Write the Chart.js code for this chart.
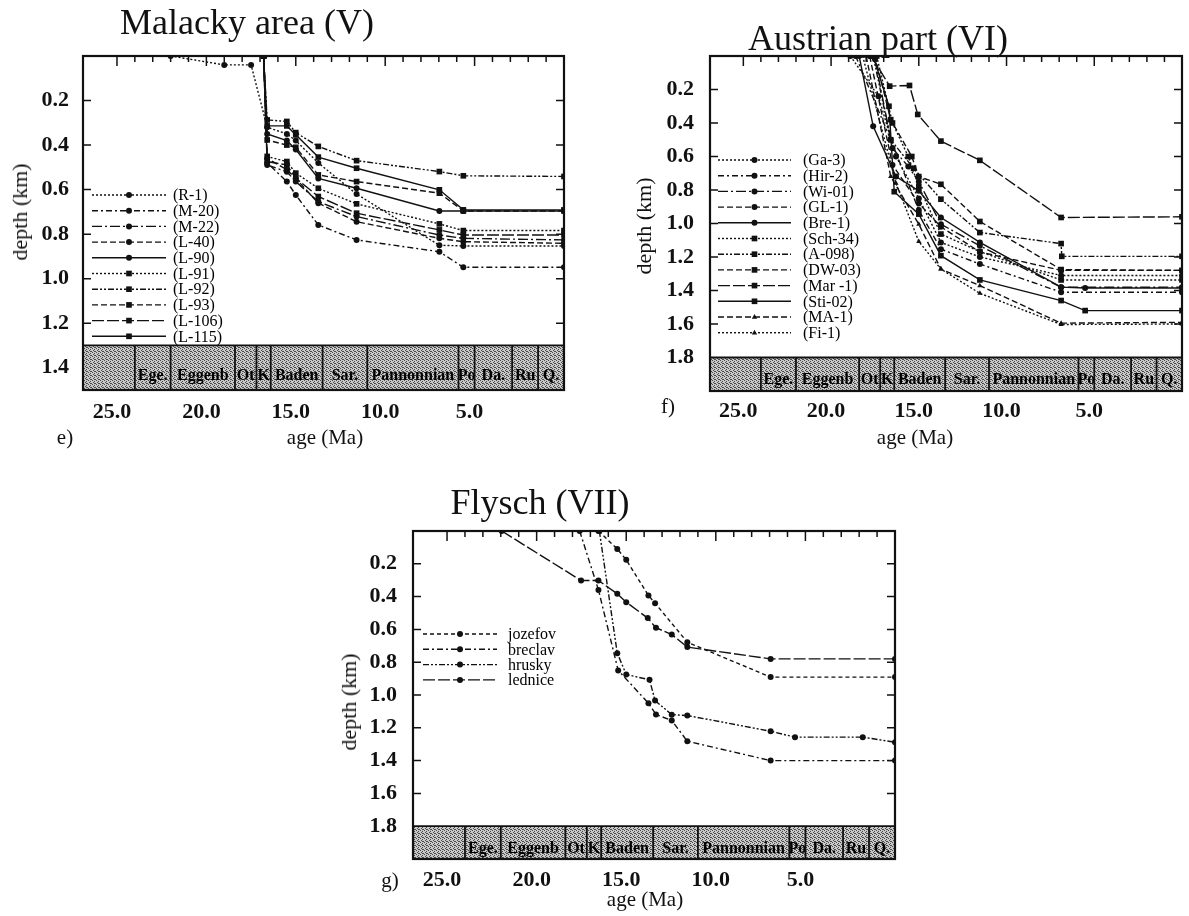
<!DOCTYPE html>
<html>
<head>
<meta charset="utf-8">
<title>Subsidence curves e-g</title>
<script src="https://cdn.jsdelivr.net/npm/chart.js@4.4.1/dist/chart.umd.min.js"></script>
<style>
  body { margin: 0; background: #fff; width: 1189px; height: 916px; position: relative; overflow: hidden;
         font-family: 'Liberation Serif', 'Times New Roman', serif; color: #111; }
  canvas { position: absolute; }
  .txt { position: absolute; transform: translate(-50%, -50%); white-space: nowrap; }
  .title { font-size: 36px; }
  .ax { font-size: 21px; }
  .ylab { font-size: 22px; transform: translate(-50%, -50%) rotate(-90deg); }
</style>
</head>
<body>
<canvas id="chartE" width="600" height="450" style="left:0;top:0"></canvas>
<canvas id="chartF" width="589" height="450" style="left:600px;top:0"></canvas>
<canvas id="chartG" width="620" height="446" style="left:300px;top:470px"></canvas>

<div class="txt title" style="left:247px;top:22px">Malacky area (V)</div>
<div class="txt title" style="left:878px;top:38px">Austrian part (VI)</div>
<div class="txt title" style="left:540px;top:502px">Flysch (VII)</div>

<div class="txt ylab" style="left:20px;top:212px">depth (km)</div>
<div class="txt ylab" style="left:644px;top:226px">depth (km)</div>
<div class="txt ylab" style="left:349px;top:702px">depth (km)</div>

<div class="txt ax" style="left:325px;top:437px">age (Ma)</div>
<div class="txt ax" style="left:915px;top:437px">age (Ma)</div>
<div class="txt ax" style="left:645px;top:899px">age (Ma)</div>

<div class="txt ax" style="left:65px;top:437px">e)</div>
<div class="txt ax" style="left:668px;top:406px">f)</div>
<div class="txt ax" style="left:390px;top:880px">g)</div>

<script>
// Stage band (Central Paratethys), ages in Ma
const stageAges = [26.9, 24.0, 22.0, 18.4, 17.2, 16.4, 13.5, 11.0, 5.9, 5.0, 2.9, 1.45, 0];
const stageNames = ['', 'Ege.', 'Eggenb', 'Ot', 'K', 'Baden', 'Sar.', 'Pannonnian', 'Po', 'Da.', 'Ru', 'Q.'];
const ageTicks = [25, 20, 15, 10, 5];
const ageMax = 26.9;
const depthTicksE = [0.2, 0.4, 0.6, 0.8, 1.0, 1.2, 1.4];
const depthTicksFG = [0.2, 0.4, 0.6, 0.8, 1.0, 1.2, 1.4, 1.6, 1.8];

// e) Malacky area (V) - [age Ma, depth km]
const malackyLabels = ['(R-1)', '(M-20)', '(M-22)', '(L-40)', '(L-90)', '(L-91)', '(L-92)', '(L-93)', '(L-106)', '(L-115)'];
const R1   = [[22.0,0],[19.0,0.04],[17.5,0.04],[16.6,0.32],[15.5,0.35],[15.0,0.38],[13.74,0.48],[11.6,0.62],[6.97,0.85],[5.63,0.853],[0,0.853]];
const M20  = [[16.8,0],[16.6,0.48],[15.5,0.564],[15.0,0.624],[13.74,0.759],[11.6,0.826],[6.97,0.879],[5.63,0.949],[0,0.949]];
const M22  = [[16.8,0],[16.6,0.489],[15.5,0.52],[15.0,0.564],[13.74,0.654],[11.6,0.721],[6.97,0.804],[5.63,0.819],[0,0.826]];
const L40  = [[16.8,0],[16.6,0.46],[15.5,0.51],[15.0,0.55],[13.74,0.661],[11.6,0.744],[6.97,0.819],[5.63,0.834],[0,0.841]];
const L90  = [[16.8,0],[16.6,0.35],[15.5,0.38],[15.0,0.42],[13.74,0.55],[11.6,0.594],[6.97,0.696],[5.63,0.696],[0,0.696]];
const L91  = [[16.8,0],[16.6,0.451],[15.5,0.474],[15.0,0.526],[13.74,0.594],[11.6,0.664],[6.97,0.754],[5.63,0.784],[0,0.784]];
const L92  = [[16.8,0],[16.6,0.287],[15.5,0.294],[15.0,0.344],[13.74,0.406],[11.6,0.47],[6.97,0.519],[5.63,0.538],[0,0.541]];
const L93  = [[16.8,0],[16.6,0.377],[15.5,0.40],[15.0,0.41],[13.74,0.534],[11.6,0.564],[6.97,0.616],[5.63,0.696],[0,0.696]];
const L106 = [[16.8,0],[16.6,0.474],[15.5,0.489],[15.0,0.549],[13.74,0.631],[11.6,0.706],[6.97,0.781],[5.63,0.804],[0,0.804]];
const L115 = [[16.8,0],[16.6,0.314],[15.5,0.314],[15.0,0.354],[13.74,0.454],[11.6,0.504],[6.97,0.601],[5.63,0.691],[0,0.691]];

// f) Austrian part (VI)
const austrianLabels = ['(Ga-3)', '(Hir-2)', '(Wi-01)', '(GL-1)', '(Bre-1)', '(Sch-34)', '(A-098)', '(DW-03)', '(Mar -1)', '(Sti-02)', '(MA-1)', '(Fi-1)'];
const Ga3  = [[18.9,0],[17.3,0.24],[16.3,0.6],[15.0,0.85],[13.74,1.113],[11.52,1.2],[6.89,1.31],[0,1.31]];
const Hir2 = [[18.6,0],[16.6,0.5],[15.0,0.92],[13.74,1.153],[11.52,1.242],[6.89,1.41],[0,1.41]];
const Wi01 = [[17.5,0.02],[16.5,0.55],[15.6,0.66],[15.0,0.75],[13.74,1.004],[11.52,1.133],[6.89,1.381],[0,1.38]];
const GL1  = [[17.8,0],[16.5,0.65],[15.0,0.88],[13.74,1.02],[11.52,1.17],[6.89,1.28],[0,1.28]];
const Bre1 = [[18.4,0],[17.6,0.42],[16.3,0.72],[15.0,0.805],[13.74,0.964],[11.52,1.113],[6.89,1.38],[5.52,1.385],[0,1.385]];
const Sch34= [[17.4,0],[16.5,0.4],[15.6,0.6],[15.0,0.78],[13.74,1.063],[11.52,1.168],[6.89,1.337],[0,1.337]];
const A098 = [[17.6,0],[16.6,0.5],[15.3,0.67],[13.74,0.855],[11.52,1.054],[6.89,1.12],[6.85,1.196],[0,1.196]];
const DW03 = [[17.5,0],[16.6,0.38],[15.4,0.6],[15.0,0.72],[13.74,0.766],[11.52,0.988],[6.89,1.275],[0,1.28]];
const Mar1 = [[17.7,0],[16.66,0.18],[15.53,0.176],[15.06,0.349],[13.74,0.508],[11.52,0.623],[6.89,0.964],[0,0.96]];
const Sti02= [[17.6,0],[16.7,0.3],[16.4,0.81],[15.0,0.944],[13.74,1.192],[11.52,1.337],[6.89,1.46],[5.52,1.52],[0,1.52]];
const MA1  = [[18.0,0],[16.6,0.72],[15.0,1.004],[13.74,1.272],[11.52,1.371],[6.89,1.595],[0,1.59]];
const Fi1  = [[18.2,0],[16.3,0.76],[15.0,1.107],[13.74,1.272],[11.52,1.417],[6.89,1.603],[0,1.60]];

// g) Flysch (VII)
const flyschLabels = ['jozefov', 'breclav', 'hrusky', 'lednice'];
const jozefov = [[16.55,0],[15.5,0.109],[15.0,0.176],[13.76,0.393],[13.39,0.44],[11.59,0.678],[6.94,0.891],[0,0.891]];
const breclav = [[17.6,0],[16.55,0.359],[15.45,0.85],[13.76,1.05],[13.34,1.119],[12.46,1.155],[11.59,1.282],[6.94,1.40],[0,1.40]];
const hrusky  = [[16.5,0],[15.5,0.745],[15.0,0.875],[13.7,0.907],[13.39,1.034],[12.46,1.12],[11.59,1.125],[6.94,1.221],[5.58,1.257],[1.8,1.257],[0,1.288]];
const lednice = [[21.95,0],[17.52,0.302],[16.55,0.302],[15.5,0.383],[15.0,0.434],[13.8,0.531],[13.34,0.59],[12.46,0.631],[11.59,0.708],[6.94,0.78],[0,0.78]];

// line styles
const DOT = [2, 2], DASHDOT = [6, 3, 2, 3], LDASHDOT = [10, 3, 2, 3], DASH = [6, 3],
      SOLID = [], DASHDOTDOT = [6, 2, 2, 2, 2, 2], LDASH = [12, 3];

const serif = "'Liberation Serif', 'Times New Roman', serif";

function bandPattern(ctx) {
    const c = document.createElement('canvas');
    c.width = 4; c.height = 4;
    const g = c.getContext('2d');
    g.fillStyle = '#c8c8c8';
    g.fillRect(0, 0, 4, 4);
    g.fillStyle = '#4a4a4a';
    [[0,0],[2,1],[1,2],[3,3],[2,3]].forEach(p => g.fillRect(p[0], p[1], 1, 1));
    return ctx.createPattern(c, 'repeat');
}

function drawMarker(ctx, style, r, x, y) {
    ctx.beginPath();
    if (style === 'rect') {
        const s = r * Math.SQRT1_2;
        ctx.rect(x - s, y - s, 2 * s, 2 * s);
    } else if (style === 'triangle') {
        ctx.moveTo(x, y - r);
        ctx.lineTo(x + r * 0.9, y + r * 0.6);
        ctx.lineTo(x - r * 0.9, y + r * 0.6);
        ctx.closePath();
    } else {
        ctx.arc(x, y, r, 0, Math.PI * 2);
    }
    ctx.fill();
}

// frame, inward ticks, stage band and legend
const panelDecor = {
    id: 'panelDecor',
    beforeDatasetsDraw(chart, args, o) {
        const { ctx, chartArea: a, scales: { x, y } } = chart;
        const yt = y.getPixelForValue(o.bandTop), yb = y.getPixelForValue(o.bandBottom);
        ctx.save();
        ctx.fillStyle = bandPattern(ctx);
        ctx.fillRect(a.left, yt, a.right - a.left, yb - yt);
        ctx.strokeStyle = '#111';
        ctx.lineWidth = 1.8;
        ctx.beginPath(); ctx.moveTo(a.left, yt); ctx.lineTo(a.right, yt); ctx.stroke();
        ctx.font = 'bold 16px ' + serif;
        ctx.textAlign = 'center';
        ctx.textBaseline = 'middle';
        ctx.fillStyle = '#000';
        for (let i = 0; i < stageNames.length; i++) {
            const x0 = x.getPixelForValue(stageAges[i]), x1 = x.getPixelForValue(stageAges[i + 1]);
            if (i > 0) { ctx.beginPath(); ctx.moveTo(x0, yt); ctx.lineTo(x0, yb); ctx.stroke(); }
            if (stageNames[i]) ctx.fillText(stageNames[i], (x0 + x1) / 2, yt + (yb - yt) * 0.68, Math.abs(x1 - x0) + 2);
        }
        ctx.restore();
    },
    afterDatasetsDraw(chart, args, o) {
        const { ctx, chartArea: a, scales: { x, y } } = chart;
        ctx.save();
        ctx.strokeStyle = '#111';
        ctx.lineWidth = 1.5;
        ctx.setLineDash([]);
        // top ticks every 1 Ma, longer every 5
        x.ticks.forEach(t => {
            if (t.value <= 0 || t.value >= x.max || !Number.isInteger(t.value)) return;
            const px = x.getPixelForValue(t.value);
            const len = t.value % 5 === 0 ? 10 : 6;
            ctx.beginPath(); ctx.moveTo(px, a.top); ctx.lineTo(px, a.top + len); ctx.stroke();
        });
        // depth ticks on both sides
        y.ticks.forEach(t => {
            if (t.value >= o.bandTop - 0.01) return;
            const py = y.getPixelForValue(t.value);
            ctx.beginPath();
            ctx.moveTo(a.left, py); ctx.lineTo(a.left + 8, py);
            ctx.moveTo(a.right, py); ctx.lineTo(a.right - 8, py);
            ctx.stroke();
        });
        ctx.lineWidth = 2.2;
        ctx.strokeRect(a.left, a.top, a.right - a.left, a.bottom - a.top);

        // legend
        ctx.font = '16px ' + serif;
        ctx.textAlign = 'left';
        ctx.textBaseline = 'middle';
        chart.data.datasets.forEach((ds, i) => {
            const ly = o.legY + i * o.legStep;
            ctx.strokeStyle = '#111';
            ctx.fillStyle = '#111';
            ctx.lineWidth = 1.4;
            ctx.setLineDash(ds.borderDash);
            ctx.beginPath(); ctx.moveTo(o.legX0, ly); ctx.lineTo(o.legX1, ly); ctx.stroke();
            ctx.setLineDash([]);
            drawMarker(ctx, ds.pointStyle, ds.pointRadius, (o.legX0 + o.legX1) / 2, ly);
            ctx.fillStyle = '#000';
            ctx.fillText(ds.label, o.legText, ly + 1);
        });
        ctx.restore();
    }
};

function series(label, pts, dash, style) {
    return {
        label: label,
        data: pts.map(p => ({ x: p[0], y: p[1] })),
        borderColor: '#111',
        backgroundColor: '#111',
        borderWidth: 1.4,
        borderDash: dash,
        pointStyle: style,
        pointRadius: style === 'rect' ? 4 : 3,
        pointBorderWidth: 0,
        tension: 0,
        fill: false
    };
}

function makePanel(id, datasets, p) {
    const tickFont = { family: serif, size: 22, weight: 'bold' };
    return new Chart(document.getElementById(id), {
        type: 'line',
        data: { datasets: datasets },
        options: {
            responsive: false,
            animation: false,
            layout: { padding: p.padding },
            plugins: {
                legend: { display: false },
                tooltip: { enabled: false },
                panelDecor: p.decor
            },
            scales: {
                x: {
                    type: 'linear', reverse: true, min: 0, max: ageMax,
                    afterFit: s => { s.height = 30; },
                    border: { display: false },
                    grid: { display: false, drawTicks: false },
                    ticks: {
                        stepSize: 1, autoSkip: false, maxRotation: 0, padding: p.xPad, labelOffset: -5,
                        font: tickFont, color: '#111',
                        callback: v => ageTicks.includes(v) ? v.toFixed(1) : ''
                    }
                },
                y: {
                    type: 'linear', reverse: true, min: 0, max: p.depthMax,
                    afterFit: s => { s.width = p.yWidth; },
                    afterBuildTicks: s => { s.ticks = p.depthTicks.map(v => ({ value: v })); },
                    border: { display: false },
                    grid: { display: false, drawTicks: false },
                    ticks: {
                        autoSkip: false, padding: p.yPad,
                        font: tickFont, color: '#111',
                        callback: v => v.toFixed(1)
                    }
                }
            }
        },
        plugins: [panelDecor]
    });
}

const malackySeries = [
    series(malackyLabels[0], R1, DOT, 'circle'),
    series(malackyLabels[1], M20, DASHDOT, 'circle'),
    series(malackyLabels[2], M22, LDASHDOT, 'circle'),
    series(malackyLabels[3], L40, DASH, 'circle'),
    series(malackyLabels[4], L90, SOLID, 'circle'),
    series(malackyLabels[5], L91, DOT, 'rect'),
    series(malackyLabels[6], L92, DASHDOTDOT, 'rect'),
    series(malackyLabels[7], L93, DASH, 'rect'),
    series(malackyLabels[8], L106, LDASH, 'rect'),
    series(malackyLabels[9], L115, SOLID, 'rect')
];

const austrianSeries = [
    series(austrianLabels[0], Ga3, DOT, 'circle'),
    series(austrianLabels[1], Hir2, DASHDOT, 'circle'),
    series(austrianLabels[2], Wi01, LDASHDOT, 'circle'),
    series(austrianLabels[3], GL1, DASH, 'circle'),
    series(austrianLabels[4], Bre1, SOLID, 'circle'),
    series(austrianLabels[5], Sch34, DOT, 'rect'),
    series(austrianLabels[6], A098, DASHDOTDOT, 'rect'),
    series(austrianLabels[7], DW03, DASH, 'rect'),
    series(austrianLabels[8], Mar1, LDASH, 'rect'),
    series(austrianLabels[9], Sti02, SOLID, 'rect'),
    series(austrianLabels[10], MA1, DASH, 'triangle'),
    series(austrianLabels[11], Fi1, DOT, 'triangle')
];

const flyschSeries = [
    series(flyschLabels[0], jozefov, [4, 3], 'circle'),
    series(flyschLabels[1], breclav, DASHDOT, 'circle'),
    series(flyschLabels[2], hrusky, DASHDOTDOT, 'circle'),
    series(flyschLabels[3], lednice, LDASH, 'circle')
];

makePanel('chartE', malackySeries, {
    padding: { top: 56, right: 36, bottom: 30, left: 0 },
    yWidth: 83, yPad: 14, xPad: 9, depthMax: 1.5, depthTicks: depthTicksE,
    decor: { bandTop: 1.3, bandBottom: 1.5, legX0: 92, legX1: 166, legText: 173, legY: 195, legStep: 15.7 }
});

makePanel('chartF', austrianSeries, {
    padding: { top: 56, right: 2, bottom: 29, left: 0 },
    yWidth: 110, yPad: 16, xPad: 7, depthMax: 2.0, depthTicks: depthTicksFG,
    decor: { bandTop: 1.8, bandBottom: 2.0, legX0: 118, legX1: 191, legText: 203, legY: 160, legStep: 15.7 }
});

makePanel('chartG', flyschSeries, {
    padding: { top: 61, right: 25, bottom: 27, left: 0 },
    yWidth: 113, yPad: 16, xPad: 8, depthMax: 2.0, depthTicks: depthTicksFG,
    decor: { bandTop: 1.8, bandBottom: 2.0, legX0: 123, legX1: 197, legText: 208, legY: 164, legStep: 15.3 }
});
</script>
</body>
</html>
